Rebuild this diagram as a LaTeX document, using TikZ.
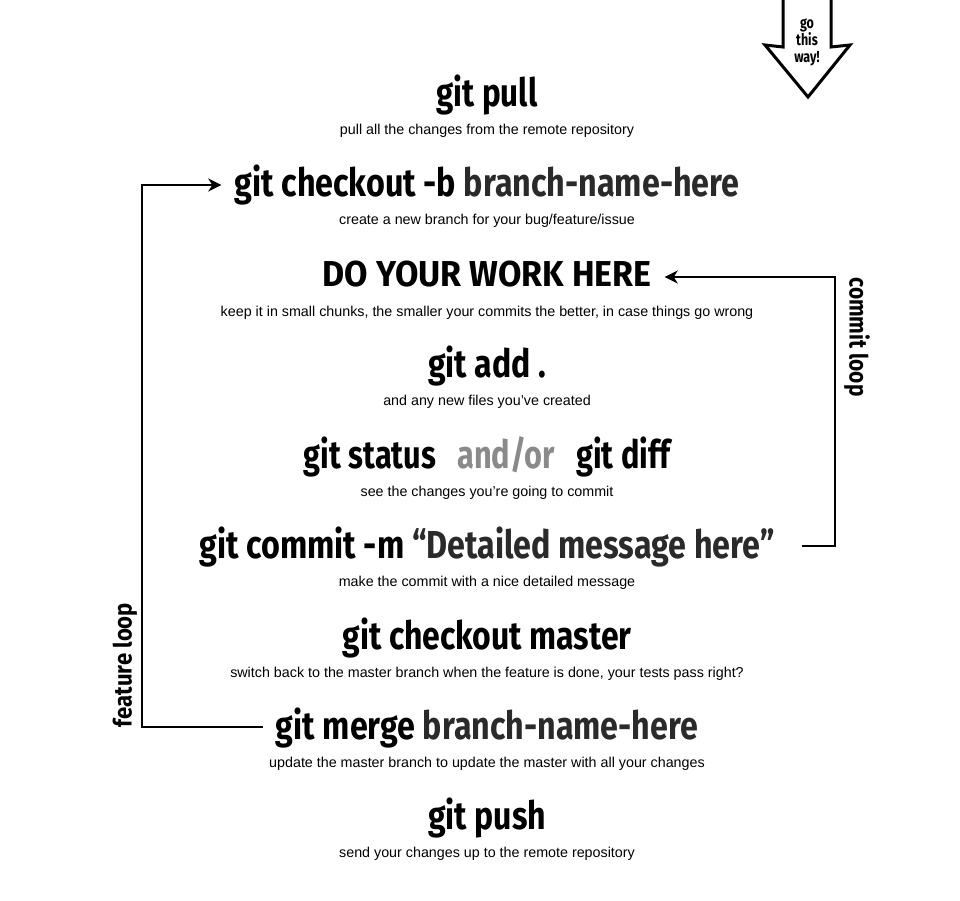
\documentclass[tikz,border=0pt]{standalone}
\usepackage{fontspec}
\usepackage{graphicx}
\setmainfont{Liberation Sans}
\newfontfamily\hfont{Fira Sans}
\newfontfamily\cfont[FakeStretch=0.78]{Fira Sans}
\usetikzlibrary{arrows.meta}
\newsavebox\fitbox
\newcommand{\hfit}[2]{\sbox\fitbox{#2}\resizebox{#1}{\ht\fitbox}{\usebox\fitbox}}
\definecolor{dk}{HTML}{2A2A2A}
\definecolor{mid}{HTML}{8A8A8A}
\begin{document}
\begin{tikzpicture}[x=1pt,y=-1pt,
  head/.style={font=\hfont\bfseries\fontsize{39}{41}\selectfont, inner xsep=13pt, inner ysep=0pt, text height=30pt, text depth=6pt, anchor=base},
  sub/.style={font=\fontsize{14.3}{16}\selectfont, inner sep=0pt, anchor=base},
  loopline/.style={line width=2.6pt, line join=miter},
  tip/.style={-{Stealth[length=13pt,width=13pt,inset=4pt]}},
  looplab/.style={font=\hfont\bfseries\fontsize{25}{25}\selectfont, inner sep=0pt}]
\useasboundingbox (0,0) rectangle (960,901);
\fill[white] (0,0) rectangle (960,901);

% go this way arrow
\draw[line width=3pt, line join=miter] (783,-3) -- (783,47) -- (765,45) -- (808,97) -- (850,45) -- (831,47) -- (831,-3);
\node[font=\cfont\bfseries\fontsize{16}{16.5}\selectfont, align=center, inner sep=0pt] (gtw) at (807,42) {go\\this\\way!};

% headings
\node[head] (pull) at (487,107) {\hfit{101pt}{git pull}};
\node[sub] (pulls) at (487,135) {pull all the changes from the remote repository};

\node[head] (checkout) at (487,197) {\hfit{505pt}{git checkout -b \textcolor{dk}{branch-name-here}}};
\node[sub] (checkouts) at (487,225) {create a new branch for your bug/feature/issue};

\node[head, text height=24pt, text depth=6pt] (work) at (487,286) {\hfit{329pt}{\fontsize{36}{38}\selectfont DO YOUR WORK HERE}};
\node[sub] (works) at (487,316) {keep it in small chunks, the smaller your commits the better, in case things go wrong};

\node[head] (add) at (487,377) {\hfit{118pt}{git add .}};
\node[sub] (adds) at (487,405) {and any new files you’ve created};

\node[head] (status) at (487,468) {\hfit{366pt}{git status\hspace{0.45em} \textcolor{mid}{and/or}\hspace{0.45em} git diff}};
\node[sub] (statuss) at (487,496) {see the changes you’re going to commit};

\node[head] (commit) at (487,558) {\hfit{575pt}{git commit -m \textcolor{dk}{“Detailed message here”}}};
\node[sub] (commits) at (487,586) {make the commit with a nice detailed message};

\node[head] (master) at (487,649) {\hfit{289pt}{git checkout master}};
\node[sub] (masters) at (487,677) {switch back to the master branch when the feature is done, your tests pass right?};

\node[head] (merge) at (487,739) {\hfit{422pt}{git merge \textcolor{dk}{branch-name-here}}};
\node[sub] (merges) at (487,767) {update the master branch to update the master with all your changes};

\node[head] (push) at (487,829) {\hfit{118pt}{git push}};
\node[sub] (pushs) at (487,857) {send your changes up to the remote repository};

% loops
\coordinate (fl) at (142,185);
\draw[loopline, tip] (merge.west) -| (fl) -- (checkout.west);
\coordinate (cl) at (835,277);
\draw[loopline, tip, shorten <=14pt] (commit.east) -| (cl) -- (work.east);

\node[looplab, rotate=-90] (cll) at (857,337) {\hfit{119pt}{commit loop}};
\node[looplab, rotate=90] (fll) at (125,665) {\hfit{124pt}{feature loop}};
\end{tikzpicture}
\end{document}
